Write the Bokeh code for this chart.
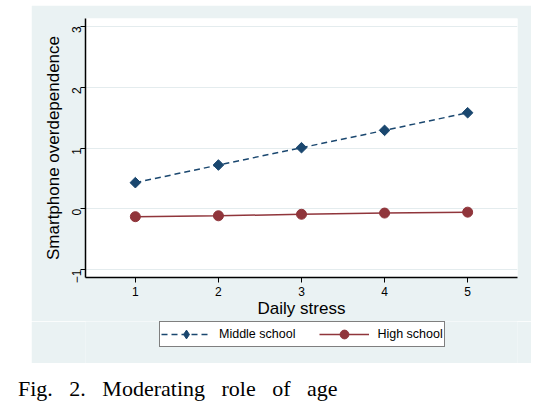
import math
from bokeh.plotting import figure
from bokeh.models import Range1d, FixedTicker, Legend, LegendItem, Div
from bokeh.layouts import column
from bokeh.embed import file_html
from bokeh.resources import INLINE

# ---- data ----
stress = [1, 2, 3, 4, 5]
middle_school = [0.43, 0.72, 1.005, 1.29, 1.58]
high_school = [-0.13, -0.115, -0.09, -0.07, -0.055]
x_ticks = [1, 2, 3, 4, 5]
y_ticks = [-1, 0, 1, 2, 3]
x_title = "Daily stress"
y_title = "Smartphone overdependence"
series_names = ["Middle school", "High school"]
caption = "Fig. 2. Moderating role of age"

NAVY = "#1a476f"
MAROON = "#90353b"
BG = "#eaf2f3"
FONT = "Liberation Sans"

x_rng = Range1d(0.4, 5.6)

p = figure(width=500, height=316, output_backend="svg", toolbar_location=None,
           x_range=x_rng, y_range=Range1d(-1.13, 3.13),
           min_border_left=54, min_border_right=14, min_border_top=13, min_border_bottom=44,
           border_fill_color=BG, background_fill_color="white",
           outline_line_color=None, margin=(5, 0, 0, 31))

p.xgrid.grid_line_color = None
p.ygrid.grid_line_color = "#e4ecee"
p.ygrid.grid_line_width = 1
p.ygrid.ticker = FixedTicker(ticks=y_ticks)

for ax in (p.xaxis[0], p.yaxis[0]):
    ax.axis_line_color = "black"
    ax.axis_line_width = 1.5
    ax.major_tick_line_color = "black"
    ax.major_tick_line_width = 1
    ax.major_tick_in = 0
    ax.major_tick_out = 5
    ax.minor_tick_line_color = None
    ax.major_label_text_font = FONT
    ax.major_label_text_font_size = "12px"
    ax.major_label_text_color = "black"
    ax.axis_label_text_font = FONT
    ax.axis_label_text_font_size = "17px"
    ax.axis_label_text_font_style = "normal"
    ax.axis_label_text_color = "black"

p.xaxis.ticker = FixedTicker(ticks=x_ticks)
p.yaxis.ticker = FixedTicker(ticks=y_ticks)
p.xaxis.axis_label = x_title
p.yaxis.axis_label = y_title
p.xaxis.major_label_standoff = 4
p.xaxis.axis_label_standoff = 0
p.yaxis.major_label_standoff = 4
p.yaxis.axis_label_standoff = 2
p.yaxis.major_label_orientation = math.pi / 2


def draw(fig, diamond_marker, diamond_angle):
    l1 = fig.line(stress, middle_school, line_color=NAVY, line_width=1.5, line_dash="6 4")
    m1 = fig.scatter(stress, middle_school, marker=diamond_marker, size=7.5, angle=diamond_angle,
                     fill_color=NAVY, line_color=NAVY)
    l2 = fig.line(stress, high_school, line_color=MAROON, line_width=1.5)
    m2 = fig.scatter(stress, high_school, marker="circle", size=10,
                     fill_color=MAROON, line_color=MAROON)
    return l1, m1, l2, m2


draw(p, "square", math.pi / 4)

# legend strip: same series, placed out of view, only its legend is seen
lg = figure(width=500, height=42, output_backend="svg", toolbar_location=None,
            x_range=x_rng, y_range=Range1d(100, 101),
            x_axis_location=None, y_axis_location=None,
            min_border=0, border_fill_color=BG, background_fill_color=BG,
            outline_line_color=None, margin=(0, 0, 0, 31))
lg.grid.visible = False
l1, m1, l2, m2 = draw(lg, "diamond", 0)

legend = Legend(items=[LegendItem(label=series_names[0], renderers=[l1, m1]),
                       LegendItem(label=series_names[1], renderers=[l2, m2])],
                orientation="horizontal", location=(74, 16),
                glyph_width=50, glyph_height=22, label_height=22,
                padding=1, spacing=24, label_standoff=8, margin=0,
                border_line_color="black", border_line_width=1,
                background_fill_color="white", background_fill_alpha=1,
                label_text_font=FONT, label_text_font_size="12.5px",
                label_text_color="black")
lg.add_layout(legend, "center")

cap = Div(text=caption, margin=(10, 0, 0, 18),
          styles={"font-family": "Liberation Serif", "font-size": "22px",
                  "word-spacing": "11px", "color": "black", "white-space": "nowrap"})

layout = column(p, lg, cap)
open("out.html", "w").write(file_html(layout, INLINE))
